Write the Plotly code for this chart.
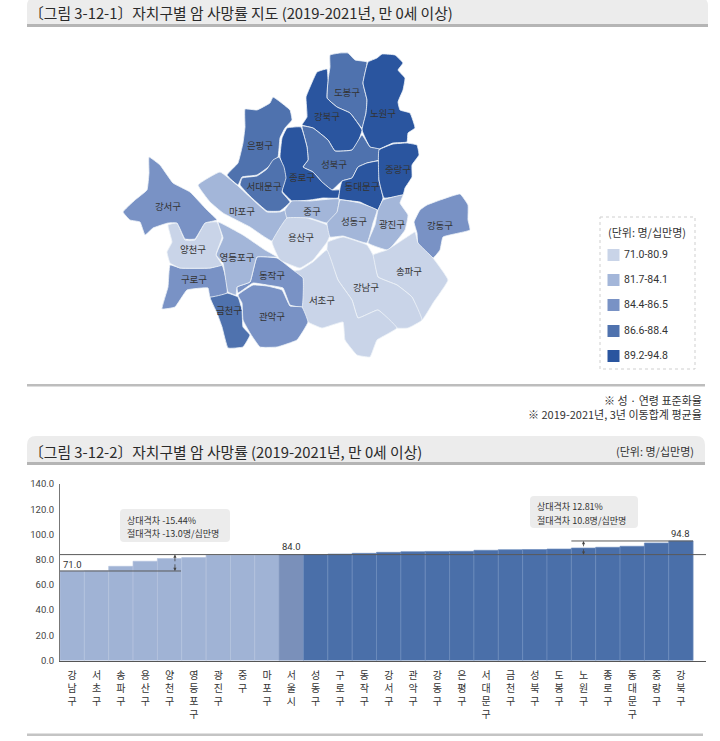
import plotly.graph_objects as go

# ---------- bar chart data ----------
CATEGORIES = ["강남구","서초구","송파구","용산구","양천구","영등포구","광진구","중구","마포구","서울시",
              "성동구","구로구","동작구","강서구","관악구","강동구","은평구","서대문구","금천구","성북구",
              "도봉구","노원구","종로구","동대문구","중랑구","강북구"]
RATES = [71.0,71.1,74.7,78.7,80.9,81.7,83.6,83.7,83.8,84.0,
         84.1,84.4,85.0,85.8,86.3,86.5,86.6,87.4,87.9,88.0,
         88.4,89.2,89.8,90.6,93.2,94.8]
Y_TICKS = [0,20,40,60,80,100,120,140]
SEOUL_RATE = 84.0
MIN_RATE = 71.0
MAX_RATE = 94.8

# ---------- map data: district outlines (map units) ----------
DOBONG = [(330,55),(340,53),(348,53),(355,60),(367,62),(363,83),(367,100),(366,113),(362,128),(350,113),(337,107),(327,98),(328,80),(330,67)]
NOWON = [(368,62),(377,58),(382,54),(395,55),(403,63),(398,70),(405,78),(403,90),(398,102),(400,110),(410,113),(415,128),(408,133),(407,142),(393,143),(379,149),(370,147),(362,130),(366,113),(367,100),(363,83)]
GANGBUK = [(317,72),(327,69),(328,80),(327,98),(337,107),(350,113),(362,130),(358,142),(352,150),(335,151),(328,140),(313,128),(302,125),(307,117),(306,97),(310,87)]
SEONGBUK = [(302,126),(313,128),(328,140),(335,151),(352,150),(362,135),(370,147),(379,149),(379,160),(367,163),(358,167),(352,178),(342,181),(332,190),(322,182),(313,172),(303,167),(308,160),(307,147)]
JONGNO = [(287,128),(301,127),(307,147),(308,160),(303,167),(313,172),(322,182),(332,190),(340,190),(338,198),(323,198),(310,200),(292,201),(282,191),(285,178),(283,167),(280,157),(282,138)]
DONGDAEMUN = [(342,181),(352,178),(358,167),(367,163),(379,161),(379,180),(383,198),(378,210),(370,207),(360,202),(339,199),(340,188)]
JUNGNANG = [(379,150),(393,144),(407,143),(417,145),(419,155),(412,165),(412,177),(405,188),(403,195),(384,198),(379,180)]
EUNPYEONG = [(245,109),(257,110),(270,103),(273,97),(290,110),(292,120),(285,128),(280,138),(278,157),(267,168),(257,175),(242,177),(238,185),(227,175),(238,163),(243,143),(245,127)]
SEODAEMUN = [(242,178),(257,176),(267,169),(273,160),(279,157),(284,167),(286,178),(282,192),(290,202),(280,211),(267,211),(252,198),(240,185)]
MAPO = [(198,185),(220,172),(238,186),(252,199),(267,212),(280,212),(286,210),(287,220),(272,241),(250,227),(223,213),(210,202)]
JUNG = [(292,201),(310,201),(339,199),(337,213),(327,223),(310,218),(287,218),(285,210)]
YONGSAN = [(287,218),(307,218),(327,225),(330,235),(327,242),(313,260),(300,268),(280,260),(272,242)]
SEONGDONG = [(340,200),(360,203),(377,210),(373,223),(367,243),(343,236),(330,237),(327,223),(337,212)]
GWANGJIN = [(383,200),(403,195),(400,203),(408,215),(405,230),(388,250),(368,243),(375,225),(378,210)]
GANGDONG = [(460,194),(468,205),(468,220),(470,230),(443,237),(440,250),(433,258),(418,245),(417,233),(414,222),(420,210),(427,205)]
SONGPA = [(415,232),(418,243),(433,258),(448,280),(433,303),(422,320),(412,297),(397,285),(378,277),(373,255),(387,250),(407,237)]
GANGNAM = [(367,245),(373,255),(378,277),(397,285),(412,297),(422,320),(408,328),(397,328),(378,310),(358,318),(352,300),(338,280),(327,250),(328,242),(343,237)]
SEOCHO = [(300,270),(313,262),(327,250),(338,280),(352,300),(358,318),(378,310),(397,328),(377,340),(370,357),(357,355),(345,340),(343,322),(322,328),(308,322),(302,307),(303,278),(293,271)]
DONGJAK = [(257,257),(277,258),(293,270),(303,278),(302,307),(290,305),(283,288),(267,285),(253,283),(238,293),(237,287),(250,282)]
GWANAK = [(238,295),(253,285),(267,286),(282,290),(290,306),(302,307),(308,322),(297,340),(277,347),(260,347),(250,333),(243,320),(242,303)]
GEUMCHEON = [(210,297),(227,293),(238,297),(242,310),(243,327),(250,335),(243,347),(228,348),(222,327),(217,313)]
GURO = [(170,265),(180,268),(210,268),(222,265),(227,283),(227,293),(210,297),(208,288),(187,290),(175,307),(162,309),(168,287)]
YEONGDEUNGPO = [(218,222),(243,235),(265,250),(277,257),(257,257),(250,282),(237,287),(236,295),(228,292),(223,263),(216,255),(223,238)]
YANGCHEON = [(168,225),(177,223),(185,240),(195,240),(205,223),(217,222),(222,237),(216,255),(222,265),(210,268),(180,268),(170,263),(167,252),(172,242)]
GANGSEO = [(149,157),(160,165),(173,183),(190,192),(207,210),(217,220),(205,223),(195,239),(185,239),(177,223),(168,223),(153,228),(145,235),(140,222),(130,220),(123,212),(135,200),(147,190),(149,173)]

DISTRICT_NAMES = ["도봉구","노원구","강북구","성북구","종로구","동대문구","중랑구","은평구","서대문구","마포구","중구","용산구","성동구",
                  "광진구","강동구","송파구","강남구","서초구","동작구","관악구","금천구","구로구","영등포구","양천구","강서구"]
DISTRICT_SHAPES = [DOBONG,NOWON,GANGBUK,SEONGBUK,JONGNO,DONGDAEMUN,JUNGNANG,EUNPYEONG,SEODAEMUN,MAPO,JUNG,YONGSAN,SEONGDONG,
                   GWANGJIN,GANGDONG,SONGPA,GANGNAM,SEOCHO,DONGJAK,GWANAK,GEUMCHEON,GURO,YEONGDEUNGPO,YANGCHEON,GANGSEO]
DISTRICT_CLASS = [3,4,4,3,4,4,4,3,3,1,1,0,1,1,2,0,0,0,2,2,3,2,1,0,2]
LABEL_X = [347,383,327,334,302,362,398,260,264,242,312,301,354,392,440,409,366,322,272,272,229,194,237,193,168]
LABEL_Y = [94,115,118,166,179,188,171,147,188,213,213,239,223,226,227,273,289,302,277,318,312,281,259,251,208]

CLASS_COLORS = ["#c9d4e8","#a3b6d9","#7992c5","#4f72ae","#2a559f"]
LEGEND_LABELS = ["71.0-80.9","81.7-84.1","84.4-86.5","86.6-88.4","89.2-94.8"]
LEGEND_Y = [255,280,305,331,356]

KR = "Noto Sans CJK KR"
NUM = "Roboto"
W, H = 720, 741
fig = go.Figure()

# map
for name, shape, cls in zip(DISTRICT_NAMES, DISTRICT_SHAPES, DISTRICT_CLASS):
    xs = [p[0] for p in shape] + [shape[0][0]]
    ys = [p[1] for p in shape] + [shape[0][1]]
    fig.add_trace(go.Scatter(x=xs, y=ys, xaxis="x2", yaxis="y2", mode="lines", fill="toself",
                             fillcolor=CLASS_COLORS[cls], name=name, hoverinfo="name",
                             line=dict(color="#eef2f8", width=0.8, shape="spline", smoothing=0.3)))
fig.add_trace(go.Scatter(x=LABEL_X, y=LABEL_Y, xaxis="x2", yaxis="y2", mode="text", text=DISTRICT_NAMES,
                         textfont=dict(family=KR, size=9.5, color="#333333"), hoverinfo="skip"))

# legend swatches
fig.add_trace(go.Scatter(x=[613.5]*5, y=LEGEND_Y, xaxis="x2", yaxis="y2", mode="markers",
                         marker=dict(symbol="square", size=12, color=CLASS_COLORS), hoverinfo="skip"))
fig.add_trace(go.Scatter(x=[624]*5, y=LEGEND_Y, xaxis="x2", yaxis="y2", mode="text", text=LEGEND_LABELS,
                         textposition="middle right", textfont=dict(family=NUM, size=10.5, color="#333333"), hoverinfo="skip"))

# bars
idx = list(range(len(CATEGORIES)))
bar_colors = ["#7a90ba" if c == "서울시" else ("#a0b3d5" if v < SEOUL_RATE else "#4a6fa9") for c, v in zip(CATEGORIES, RATES)]
line_colors = ["#7a90ba" if c == "서울시" else ("#b4c3de" if v < SEOUL_RATE else "#6d8cbd") for c, v in zip(CATEGORIES, RATES)]
fig.add_trace(go.Bar(x=idx, y=RATES, marker=dict(color=bar_colors, line=dict(color=line_colors, width=0.7)),
                     width=1, hovertext=CATEGORIES, hoverinfo="text+y"))
# reference lines
LN = dict(color="#5a5a5a", width=1)
fig.add_trace(go.Scatter(x=[-0.5, 26.03], y=[SEOUL_RATE]*2, mode="lines", line=LN, hoverinfo="skip"))
fig.add_trace(go.Scatter(x=[-0.5, 4.47], y=[MIN_RATE]*2, mode="lines", line=LN, hoverinfo="skip"))
fig.add_trace(go.Scatter(x=[20.5, 25.5], y=[MAX_RATE]*2, mode="lines", line=LN, hoverinfo="skip"))

shapes = []
def pg_rect(x0, y0, x1, y1, fill, line=None, dash=None, layer="below"):
    shapes.append(dict(type="rect", xref="x2", yref="y2", x0=x0, y0=y0, x1=x1, y1=y1, fillcolor=fill,
                       line=dict(color=line or "rgba(0,0,0,0)", width=1 if line else 0, dash=dash), layer=layer))
def round_box(x0, y0, x1, y1, r, fill, top_only=False):
    if top_only:
        p = f"M{x0},{y1} L{x0},{y0+r} Q{x0},{y0} {x0+r},{y0} L{x1-r},{y0} Q{x1},{y0} {x1},{y0+r} L{x1},{y1} Z"
    else:
        p = (f"M{x0+r},{y0} L{x1-r},{y0} Q{x1},{y0} {x1},{y0+r} L{x1},{y1-r} Q{x1},{y1} {x1-r},{y1} "
             f"L{x0+r},{y1} Q{x0},{y1} {x0},{y1-r} L{x0},{y0+r} Q{x0},{y0} {x0+r},{y0} Z")
    shapes.append(dict(type="path", xref="x2", yref="y2", path=p, fillcolor=fill, line=dict(width=0), layer="below"))

# title bars
round_box(27, -3, 708, 25, 9, "#ececec", top_only=True)
pg_rect(27, 24, 708, 27, "#b5b5b5")
round_box(27, 436, 705, 462, 9, "#ececec", top_only=True)
pg_rect(27, 462, 705, 465, "#b5b5b5")
# rules
pg_rect(27, 384, 705, 386.5, "#bdbdbd")
pg_rect(27, 733.5, 703, 736, "#c4c4c4")
# legend frame
pg_rect(600, 217, 695, 369, "white", line="#cfcfcf", dash="dot")
# callouts
round_box(120, 509, 230, 542, 4, "#ececec")
round_box(530, 496, 638, 528, 4, "#ececec")

ann = []
def page_text(x, y, text, size=10, color="#333333", anchor="left", family=KR):
    ann.append(dict(xref="x2", yref="y2", x=x, y=y, text=text, showarrow=False, xanchor=anchor, yanchor="middle",
                    font=dict(family=family, size=size, color=color)))

page_text(27, 12, "〔그림 3-12-1〕자치구별 암 사망률 지도 (2019-2021년, 만 0세 이상)", size=14.8, color="#2a2a2a")
page_text(27, 451, "〔그림 3-12-2〕자치구별 암 사망률 (2019-2021년, 만 0세 이상)", size=14.8, color="#2a2a2a")
page_text(696, 451, "(단위: 명/십만명)", size=11, anchor="right")
page_text(647, 232, "(단위: 명/십만명)", size=11, anchor="center")
page_text(704, 400, "※ 성 · 연령 표준화율", size=11, anchor="right")
page_text(704, 414, "※ 2019-2021년, 3년 이동합계 평균율", size=11, anchor="right")
page_text(125, 520, "상대격차 -15.44%", size=9)
page_text(125, 533, "절대격차 -13.0명/십만명", size=9)
page_text(535, 506.5, "상대격차 12.81%", size=9)
page_text(535, 520, "절대격차 10.8명/십만명", size=9)

# value labels and gap arrows (in chart coordinates)
for xv, yv, t in [(0, 76.5, "71.0"), (9, 90.5, "84.0"), (25, 101, "94.8")]:
    ann.append(dict(xref="x", yref="y", x=xv, y=yv, text=t, showarrow=False, font=dict(family=NUM, size=9.5, color="#333333")))
for xv, a, b in [(4.22, MIN_RATE, SEOUL_RATE), (21.0, SEOUL_RATE, MAX_RATE)]:
    for s, e in [(a + (b - a) / 2, b), (a + (b - a) / 2, a)]:
        ann.append(dict(xref="x", yref="y", axref="x", ayref="y", x=xv, y=e, ax=xv, ay=s, text="", showarrow=True,
                        arrowhead=2, arrowsize=0.8, arrowwidth=0.8, arrowcolor="#444444"))

tick_text = ["<br>".join(list(c)) for c in CATEGORIES]
fig.update_layout(
    width=W, height=H, autosize=False, margin=dict(l=0, r=0, t=0, b=0, pad=0, autoexpand=False),
    paper_bgcolor="white", plot_bgcolor="rgba(0,0,0,0)", showlegend=False, barmode="overlay",
    shapes=shapes, annotations=ann,
    xaxis=dict(domain=[60/W, 706/W], range=[-0.5, 26.03], tickmode="array", tickvals=idx, ticktext=tick_text,
               tickangle=0, tickfont=dict(family=KR, size=10, color="#333333"), showgrid=False, zeroline=False,
               showline=True, linecolor="#555555", linewidth=1, ticks="outside", ticklen=5, tickcolor="rgba(0,0,0,0)", anchor="y"),
    yaxis=dict(domain=[1-660.5/H, 1-484/H], range=[0, 140], tickmode="array", tickvals=Y_TICKS,
               ticktext=[f"{v:.1f}" for v in Y_TICKS], tickfont=dict(family=NUM, size=9.5, color="#444444"),
               showgrid=False, zeroline=False, showline=True, linecolor="#777777", linewidth=1,
               ticks="outside", ticklen=3, tickcolor="rgba(0,0,0,0)", anchor="x"),
    xaxis2=dict(domain=[0, 1], range=[0, W], visible=False, anchor="y2", fixedrange=True),
    yaxis2=dict(domain=[0, 1], range=[H, 0], visible=False, anchor="x2", fixedrange=True),
)
fig.write_html("out.html", config=dict(displayModeBar=False),
               post_script="document.body.style.margin='0';document.body.style.overflow='hidden';")
